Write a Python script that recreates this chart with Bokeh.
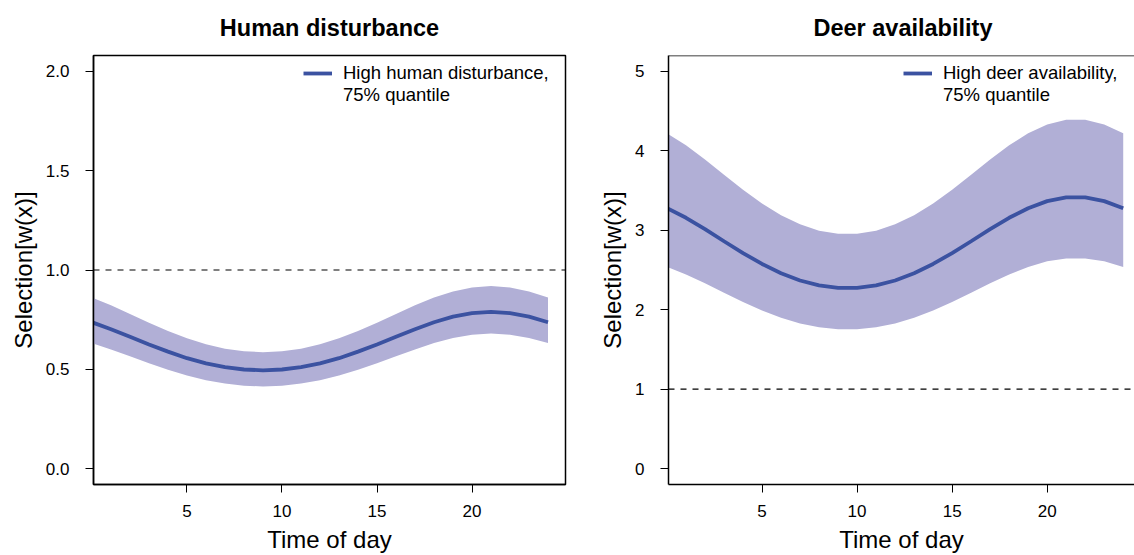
from bokeh.plotting import figure
from bokeh.models import Range1d, FixedTicker, NumeralTickFormatter, Span, Legend, LegendItem
from bokeh.layouts import row
from bokeh.embed import file_html
from bokeh.resources import INLINE

hours = list(range(25))

# Human disturbance panel
hum_fit = [0.737, 0.702, 0.664, 0.625, 0.589, 0.556, 0.530, 0.511, 0.499, 0.495, 0.499, 0.511, 0.530,
           0.556, 0.589, 0.625, 0.664, 0.702, 0.737, 0.765, 0.783, 0.789, 0.783, 0.765, 0.737]
hum_upper = [0.861, 0.822, 0.778, 0.734, 0.693, 0.656, 0.626, 0.604, 0.591, 0.586, 0.591, 0.604, 0.626,
             0.656, 0.693, 0.734, 0.778, 0.822, 0.861, 0.892, 0.912, 0.919, 0.912, 0.892, 0.861]
hum_lower = [0.632, 0.600, 0.566, 0.530, 0.498, 0.469, 0.445, 0.428, 0.417, 0.414, 0.417, 0.428, 0.445,
             0.469, 0.498, 0.530, 0.566, 0.600, 0.632, 0.658, 0.674, 0.680, 0.674, 0.658, 0.632]

# Deer availability panel
deer_fit = [3.278, 3.157, 3.014, 2.862, 2.713, 2.576, 2.459, 2.368, 2.306, 2.274, 2.274, 2.306, 2.368,
            2.459, 2.576, 2.713, 2.862, 3.014, 3.157, 3.278, 3.367, 3.414, 3.414, 3.367, 3.278]
deer_upper = [4.221, 4.069, 3.890, 3.698, 3.509, 3.337, 3.190, 3.075, 2.995, 2.955, 2.955, 2.995, 3.075,
              3.190, 3.337, 3.509, 3.698, 3.890, 4.069, 4.221, 4.333, 4.392, 4.392, 4.333, 4.221]
deer_lower = [2.539, 2.444, 2.332, 2.213, 2.096, 1.989, 1.898, 1.827, 1.778, 1.753, 1.753, 1.778, 1.827,
              1.898, 1.989, 2.096, 2.213, 2.332, 2.444, 2.539, 2.609, 2.645, 2.645, 2.609, 2.539]

x_ticks = [5, 10, 15, 20]
hum_yticks = [0.0, 0.5, 1.0, 1.5, 2.0]
deer_yticks = [0, 1, 2, 3, 4, 5]

titles = ["Human disturbance", "Deer availability"]
legend_lines = [["High human disturbance,", "75% quantile"],
                ["High deer availability,", "75% quantile"]]
x_label = "Time of day"
y_label = "Selection[w(x)]"

FONT = "Liberation Sans"
BAND = "#b1afd6"
LINE = "#3b52a1"
HEIGHT = 555
X_START, X_FULL_END = 0.08, 24.92


def make_panel(fit, upper, lower, yticks, ymax, title, leg, width, border_left, border_right,
               x_end, legend_x, yfmt, full_box, title_offset):
    y0, y1 = -0.04 * ymax, 1.04 * ymax
    p = figure(width=width, height=HEIGHT, output_backend="svg", toolbar_location=None,
               x_range=Range1d(X_START, x_end), y_range=Range1d(y0, y1),
               min_border_left=border_left, min_border_right=border_right,
               min_border_top=55, min_border_bottom=71)
    p.grid.visible = False
    p.background_fill_color = "white"
    p.border_fill_color = "white"

    p.varea(x=hours, y1=lower, y2=upper, fill_color=BAND, fill_alpha=1.0)
    r = p.line(x=hours, y=fit, line_color=LINE, line_width=3.8)
    dummy = p.line(x=hours, y=fit, line_alpha=0, line_width=4)

    p.add_layout(Span(location=1, dimension="width", line_color="black", line_width=1.1,
                      line_dash="6 6"))

    for ax in (p.xaxis[0], p.yaxis[0]):
        ax.major_tick_in = 0
        ax.major_tick_out = 8
        ax.minor_tick_out = 0
        ax.minor_tick_in = 0
        ax.major_tick_line_color = "black"
        ax.major_tick_line_width = 1
        ax.major_label_text_font = FONT
        ax.major_label_text_font_size = "17px"
        ax.major_label_text_color = "black"
        ax.axis_label_text_font = FONT
        ax.axis_label_text_font_size = "24px"
        ax.axis_label_text_font_style = "normal"
        ax.axis_label_text_color = "black"
        ax.axis_line_color = "black"
        ax.axis_line_width = 1.5

    p.xaxis.ticker = FixedTicker(ticks=x_ticks)
    p.yaxis.ticker = FixedTicker(ticks=yticks)
    p.yaxis.formatter = NumeralTickFormatter(format=yfmt)
    p.xaxis.axis_label = x_label
    p.yaxis.axis_label = y_label
    p.xaxis.major_label_standoff = 12
    p.xaxis.axis_label_standoff = 6
    p.yaxis.major_label_standoff = 16
    p.yaxis.axis_label_standoff = 6

    if full_box:
        p.outline_line_color = "black"
        p.outline_line_width = 1.5
        p.outline_line_alpha = 1.0
    else:
        p.outline_line_color = None
        p.add_layout(Span(location=y1, dimension="width",
                          line_color="black", line_width=1.5))

    p.title.text = title
    p.title.text_font = FONT
    p.title.text_font_style = "bold"
    p.title.text_font_size = "23.5px"
    p.title.text_color = "black"
    p.title.standoff = 26
    p.title.vertical_align = "top"
    if title_offset is None:
        p.title.align = "center"
    else:
        p.title.align = "left"
        p.title.offset = title_offset

    legend = Legend(items=[LegendItem(label=leg[0], renderers=[r]),
                           LegendItem(label=leg[1], renderers=[dummy])],
                    location=(legend_x, 378))
    legend.border_line_color = None
    legend.background_fill_alpha = 0
    legend.padding = 0
    legend.margin = 0
    legend.spacing = 0
    legend.glyph_width = 29
    legend.glyph_height = 22
    legend.label_standoff = 11
    legend.label_text_font = FONT
    legend.label_text_font_size = "18.5px"
    legend.label_text_color = "black"
    legend.label_height = 22
    p.add_layout(legend)
    return p


p1 = make_panel(hum_fit, hum_upper, hum_lower, hum_yticks, 2.0, titles[0], legend_lines[0],
                585, 93, 20, X_FULL_END, 210, "0.0", True, None)
p2 = make_panel(deer_fit, deer_upper, deer_lower, deer_yticks, 5.0, titles[1], legend_lines[1],
                549, 83, 0, X_START + 466 / 19.01, 235, "0", False, 145)

layout = row(p1, p2)
open("out.html", "w").write(file_html(layout, INLINE))
